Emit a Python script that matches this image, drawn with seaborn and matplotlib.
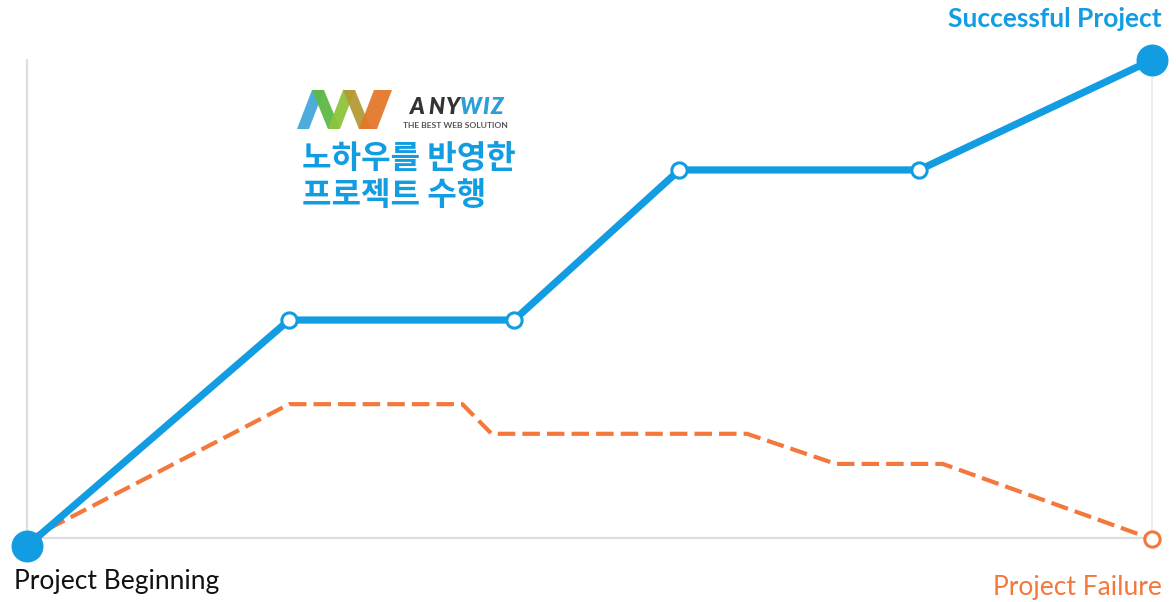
import matplotlib
matplotlib.use("Agg")
import matplotlib.pyplot as plt
import seaborn as sns
import pandas as pd
from matplotlib.patches import Polygon

# ---- data ----
success_x = [0, 23.3, 43.3, 58.0, 79.3, 100]
success_y = [-1.7, 45.6, 45.6, 77.0, 77.0, 100]
failure_x = [0, 23.3, 38.7, 41.3, 64.0, 71.9, 81.4, 100]
failure_y = [-0.4, 28.0, 28.0, 21.8, 21.8, 15.5, 15.5, -0.2]
label_success = "Successful Project"
label_failure = "Project Failure"
label_begin = "Project Beginning"
title_kr = "노하우를 반영한\n프로젝트 수행"

BLUE = "#129de2"
ORANGE = "#f4773b"
GRID = "#dedede"

sns.set_theme(style="white")
plt.rcParams['font.family'] = ['Lato', 'DejaVu Sans']

W, H = 1176, 602
fig = plt.figure(figsize=(W / 100, H / 100), dpi=100)
ax = fig.add_axes([0, 0, 1, 1])
ax.set_xlim(-27 / 1125 * 100, (W - 27) / 1125 * 100)
ax.set_ylim((538 - H) / 478 * 100, 538 / 478 * 100)
ax.axis("off")

# frame lines
ax.plot([0, 0], [0, 100], color=GRID, lw=1.6, zorder=1)
ax.plot([0, 100], [0, 0], color=GRID, lw=1.6, zorder=1)
ax.plot([100, 100], [0, 100], color="#ececec", lw=1.4, zorder=1)

df_s = pd.DataFrame({"x": success_x, "y": success_y})
df_f = pd.DataFrame({"x": failure_x, "y": failure_y})

sns.lineplot(data=df_f, x="x", y="y", ax=ax, color=ORANGE, lw=3.0,
             sort=False, zorder=2)
ax.lines[-1].set_dashes([4.2, 1.7])
sns.lineplot(data=df_s, x="x", y="y", ax=ax, color=BLUE, lw=5.2,
             sort=False, zorder=3)

# hollow markers on the success line (inner points)
ax.plot(df_s["x"][1:-1], df_s["y"][1:-1], ls="none", marker="o", ms=11,
        mfc="white", mec=BLUE, mew=2.2, zorder=4)
# filled end markers
ax.plot([df_s["x"].iloc[0], df_s["x"].iloc[-1]],
        [df_s["y"].iloc[0], df_s["y"].iloc[-1]], ls="none", marker="o",
        ms=22, mfc=BLUE, mec=BLUE, zorder=5)
# failure end marker
ax.plot([df_f["x"].iloc[-1]], [df_f["y"].iloc[-1]], ls="none", marker="o",
        ms=11, mfc="white", mec=ORANGE, mew=2.2, zorder=5)


def T(x, y):
    return x / W, 1 - y / H


# labels
fig.text(*T(1162, 19), label_success, color=BLUE, fontsize=19,
         fontweight="bold", ha="right", va="center")
fig.text(*T(14, 581), label_begin, color="#111111", fontsize=19,
         ha="left", va="center")
fig.text(*T(1162, 588), label_failure, color=ORANGE, fontsize=19,
         ha="right", va="center")

# korean title
fig.text(*T(302, 177), title_kr, color=BLUE, fontsize=23.1, fontweight="bold",
         ha="left", va="center", linespacing=1.15,
         family=['Noto Sans CJK KR', 'DejaVu Sans'])

# logo (decorative)
cols = ["#43a8dc", "#5fb946", "#8dc43d", "#b49b35", "#e3782a"]
top, bot = 90, 129
strokes = [
    [(297, bot), (312, top), (324, top), (309, bot)],
    [(312, top), (324, top), (340, bot), (328, bot)],
    [(328, bot), (343, top), (355, top), (340, bot)],
    [(343, top), (355, top), (371, bot), (359, bot)],
    [(359, bot), (374, top), (392, top), (377, bot)],
]
for c, s in zip(cols, strokes):
    poly = Polygon([T(x, y) for x, y in s], closed=True, transform=fig.transFigure,
                   facecolor=c, edgecolor="none", alpha=0.95)
    fig.patches.append(poly)
letters = [("A", 416, "#333333"), ("N", 436, "#333333"), ("Y", 452, "#333333"),
           ("W", 471, "#2a9fd8"), ("I", 486, "#2a9fd8"), ("Z", 497, "#2a9fd8")]
for ch, lx, c in letters:
    fig.text(*T(lx, 107), ch, color=c, fontsize=16, fontweight="heavy",
             style="italic", ha="center", va="center")
fig.text(*T(403, 125), "THE BEST WEB SOLUTION", color="#555555", fontsize=6.1,
         fontweight="bold", ha="left", va="center")

fig.savefig("out.png", dpi=100)
